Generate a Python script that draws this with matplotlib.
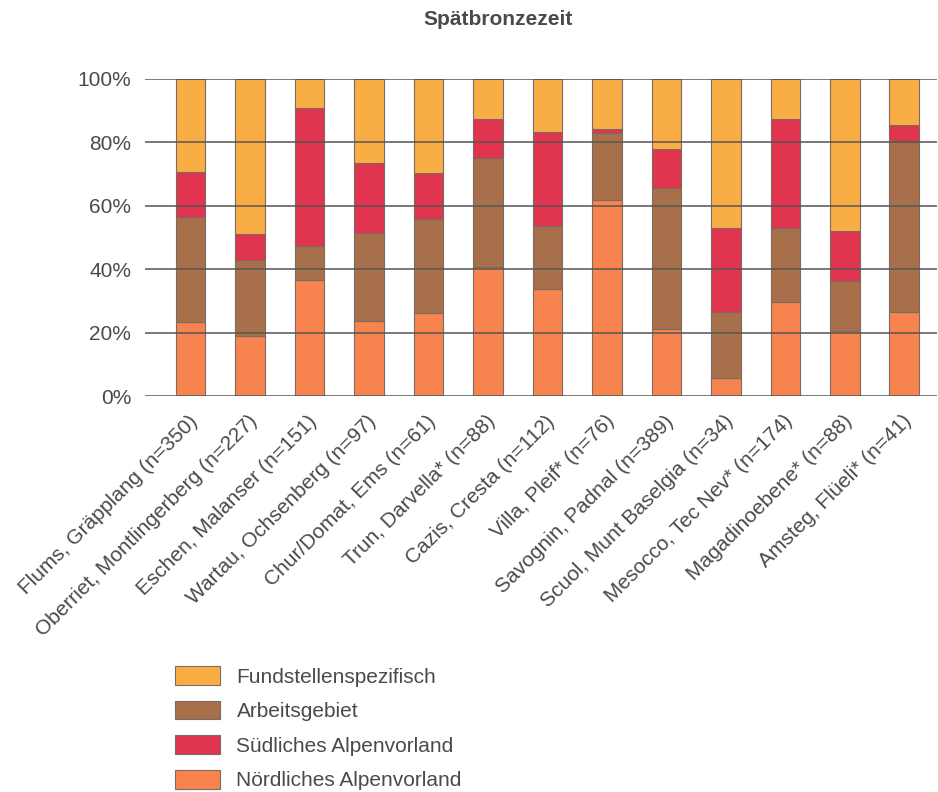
import numpy as np
import matplotlib
matplotlib.use("Agg")
import matplotlib.pyplot as plt
from matplotlib import font_manager

# pick a narrow grotesque if available
names = {f.name for f in font_manager.fontManager.ttflist}
base = "Liberation Sans Narrow" if "Liberation Sans Narrow" in names else "Liberation Sans"
plt.rcParams["font.family"] = [base, "DejaVu Sans"]

sites = [
    "Flums, Gräpplang (n=350)",
    "Oberriet, Montlingerberg (n=227)",
    "Eschen, Malanser (n=151)",
    "Wartau, Ochsenberg (n=97)",
    "Chur/Domat, Ems (n=61)",
    "Trun, Darvella* (n=88)",
    "Cazis, Cresta (n=112)",
    "Villa, Pleif* (n=76)",
    "Savognin, Padnal (n=389)",
    "Scuol, Munt Baselgia (n=34)",
    "Mesocco, Tec Nev* (n=174)",
    "Magadinoebene* (n=88)",
    "Amsteg, Flüeli* (n=41)",
]

# shares in percent, bottom to top
noerdlich = [23.5, 19.0, 36.7, 23.8, 26.4, 40.6, 33.9, 61.8, 21.2, 5.9, 29.7, 20.6, 26.7]
arbeit = [33.1, 23.9, 10.6, 27.8, 29.5, 34.6, 19.9, 21.3, 44.4, 20.8, 23.4, 15.8, 53.7]
suedlich = [14.0, 8.2, 43.5, 21.9, 14.5, 12.3, 29.5, 1.1, 12.4, 26.2, 34.2, 15.8, 5.1]
fund = [100 - a - b - c for a, b, c in zip(noerdlich, arbeit, suedlich)]

series = [
    ("Nördliches Alpenvorland", noerdlich, "#F7844F"),
    ("Arbeitsgebiet", arbeit, "#A8704A"),
    ("Südliches Alpenvorland", suedlich, "#E1344F"),
    ("Fundstellenspezifisch", fund, "#F9AD45"),
]

txt = "#4a4a4a"
fig = plt.figure(figsize=(9.38, 7.92), dpi=100)
ax = fig.add_axes([0.1546, 0.4996, 0.8444, 0.4007])

x = np.arange(len(sites))
bottom = np.zeros(len(sites))
bars = {}
for label, vals, col in series:
    b = ax.bar(x, vals, width=0.5, bottom=bottom, color=col,
               edgecolor="#7a6a60", linewidth=0.8, label=label, zorder=2)
    bars[label] = b
    bottom += np.array(vals)

ax.set_xlim(-0.765, 12.55)
ax.set_ylim(0, 100)
ax.set_yticks(np.arange(0, 101, 20))
ax.set_yticklabels([f"{v}%" for v in range(0, 101, 20)])
for v in range(0, 101, 20):
    ax.axhline(v, color="#555555", lw=1.1, zorder=3)
for s in ax.spines.values():
    s.set_visible(False)
ax.tick_params(axis="y", length=0, pad=10, labelsize=15, labelcolor=txt)
ax.tick_params(axis="x", length=0, pad=11)
ax.set_xticks(x - 0.04)
ax.set_xticklabels(sites, rotation=45, ha="right", rotation_mode="anchor",
                   fontsize=15, color=txt)

fig.text(0.531, 0.975, "Spätbronzezeit", ha="center", va="center",
         fontsize=15, fontweight="bold", color=txt)

order = ["Fundstellenspezifisch", "Arbeitsgebiet",
         "Südliches Alpenvorland", "Nördliches Alpenvorland"]
fig.legend([bars[k] for k in order], order, loc="upper left",
           bbox_to_anchor=(0.1866, 0.159),
           frameon=False, fontsize=15, handlelength=2.15, handleheight=1.0,
           labelspacing=0.68, handletextpad=0.8, labelcolor=txt,
           borderaxespad=0, borderpad=0)

fig.savefig("out.png", dpi=100)
